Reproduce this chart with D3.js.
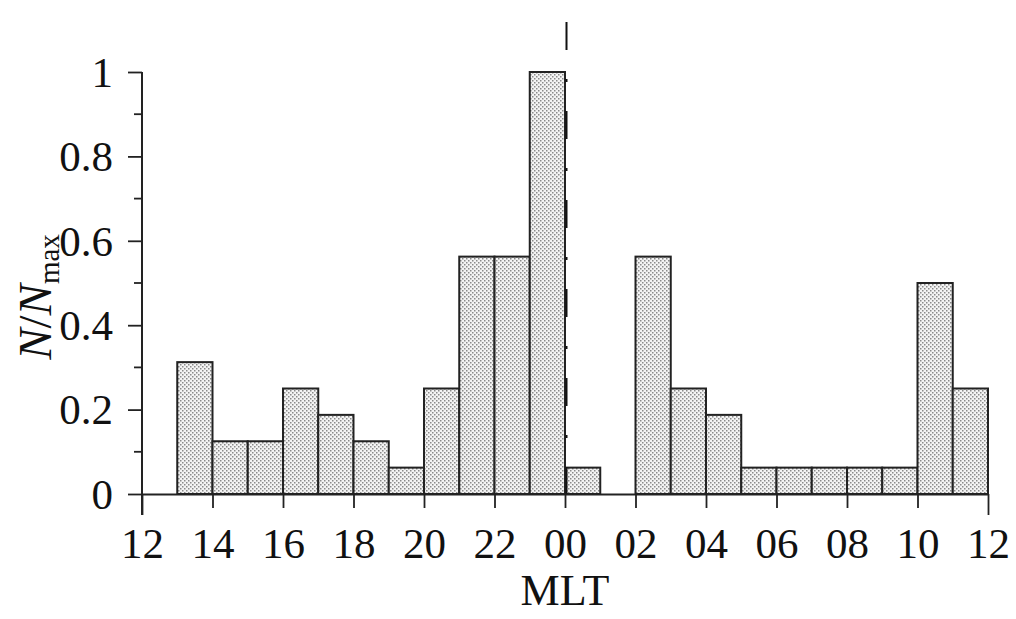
<!DOCTYPE html>
<html>
<head>
<meta charset="utf-8">
<script src="https://cdn.jsdelivr.net/npm/d3@7"></script>
<style>
  html, body { margin: 0; padding: 0; background: #fff; }
  svg { display: block; }
  text { font-family: "Liberation Serif", "Times New Roman", serif; fill: #111; }
</style>
</head>
<body>
<svg id="chart" width="1016" height="619"></svg>
<script>
// ---- data ----
const binStartMLT = [13, 14, 15, 16, 17, 18, 19, 20, 21, 22, 23, 0, 2, 3, 4, 5, 6, 7, 8, 9, 10, 11];
const values      = [0.3125, 0.125, 0.125, 0.25, 0.1875, 0.125, 0.0625, 0.25, 0.5625, 0.5625, 1, 0.0625,
                     0.5625, 0.25, 0.1875, 0.0625, 0.0625, 0.0625, 0.0625, 0.0625, 0.5, 0.25];
const xTickLabels = ["12", "14", "16", "18", "20", "22", "00", "02", "04", "06", "08", "10", "12"];
const yTickValues = [0, 0.2, 0.4, 0.6, 0.8, 1];
const yTickLabels = ["0", "0.2", "0.4", "0.6", "0.8", "1"];
const midnightMLT = 0;

// ---- layout ----
const svg = d3.select("#chart");
const mLeft = 142, mRight = 988, mTop = 72, mBottom = 494;
// x domain: hours elapsed since 12 MLT
const x = d3.scaleLinear().domain([0, 24]).range([mLeft, mRight]);
const y = d3.scaleLinear().domain([0, 1]).range([mBottom, mTop]);
const offset = h => (h - 12 + 24) % 24;

// pattern
const defs = svg.append("defs");
const pat = defs.append("pattern").attr("id", "dots")
  .attr("patternUnits", "userSpaceOnUse").attr("width", 4).attr("height", 4);
pat.append("rect").attr("width", 4).attr("height", 4).attr("fill", "#f3f3f3");
pat.append("rect").attr("x", 0).attr("y", 0).attr("width", 1.5).attr("height", 1.5).attr("fill", "#8a8a8a");
pat.append("rect").attr("x", 2).attr("y", 2).attr("width", 1.5).attr("height", 1.5).attr("fill", "#8a8a8a");

// bars
svg.append("g").selectAll("rect").data(binStartMLT.map((h, i) => ({h, v: values[i]})))
  .join("rect")
  .attr("x", d => x(offset(d.h)))
  .attr("y", d => y(d.v))
  .attr("width", d => x(offset(d.h) + 1) - x(offset(d.h)))
  .attr("height", d => y(0) - y(d.v))
  .attr("fill", "url(#dots)")
  .attr("stroke", "#222")
  .attr("stroke-width", 2);

// midnight dash-dot line
svg.append("line")
  .attr("x1", x(offset(midnightMLT)) + 1.5).attr("x2", x(offset(midnightMLT)) + 1.5)
  .attr("y1", 22).attr("y2", y(0))
  .attr("stroke", "#111").attr("stroke-width", 2)
  .attr("stroke-dasharray", "28,29,3,29");

// x axis
const xAxis = d3.axisBottom(x)
  .tickValues(d3.range(0, 25, 2))
  .tickFormat((d, i) => xTickLabels[i])
  .tickSizeInner(14).tickSizeOuter(0).tickPadding(8);
const gx = svg.append("g").attr("transform", `translate(0,${mBottom})`).call(xAxis);
gx.select(".domain").attr("stroke", "#222").attr("stroke-width", 2);
gx.selectAll(".tick line").attr("stroke", "#222").attr("stroke-width", 1.8)
  .attr("y2", (d) => (d === 0 || d === 24) ? 21 : 14);
gx.selectAll(".tick text").attr("font-size", 43).attr("font-family", "Liberation Serif").attr("fill", "#111")
  .attr("dy", "0").attr("y", 64);

// y axis
const yAxis = d3.axisLeft(y)
  .tickValues(yTickValues)
  .tickFormat((d, i) => yTickLabels[i])
  .tickSizeInner(14).tickSizeOuter(0).tickPadding(15);
const gy = svg.append("g").attr("transform", `translate(${mLeft},0)`).call(yAxis);
gy.select(".domain").remove();
gy.append("line").attr("x1", 0).attr("x2", 0).attr("y1", mTop).attr("y2", mBottom + 21)
  .attr("stroke", "#222").attr("stroke-width", 2);
gy.selectAll(".tick line").attr("stroke", "#222").attr("stroke-width", 1.8);
gy.selectAll(".tick text").attr("font-size", 43).attr("font-family", "Liberation Serif").attr("fill", "#111")
  .attr("dy", "0.33em");
// minor y ticks
gy.append("g").selectAll("line").data(d3.range(0.1, 1, 0.2))
  .join("line")
  .attr("x1", -8).attr("x2", 0)
  .attr("y1", d => y(d)).attr("y2", d => y(d))
  .attr("stroke", "#222").attr("stroke-width", 1.8);

// x title
svg.append("text").attr("x", x(offset(midnightMLT))).attr("y", 605)
  .attr("text-anchor", "middle").attr("font-size", 44).text("MLT");

// y title
const yt = svg.append("text")
  .attr("transform", "translate(51,297) rotate(-90)")
  .attr("text-anchor", "middle").attr("font-size", 47);
yt.append("tspan").attr("font-style", "italic").text("N");
yt.append("tspan").text("/");
yt.append("tspan").attr("font-style", "italic").text("N");
yt.append("tspan").attr("font-size", 29).attr("dy", 8).text("max");
</script>
</body>
</html>
